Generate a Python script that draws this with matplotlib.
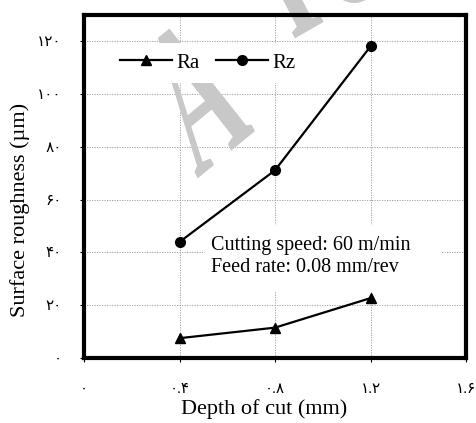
import numpy as np
import matplotlib.pyplot as plt
from matplotlib.textpath import TextPath
from matplotlib.font_manager import FontProperties
from matplotlib.patches import PathPatch, Rectangle
from matplotlib.transforms import Affine2D

depth = [0.4, 0.8, 1.2]
ra = [7.4, 11.4, 22.6]
rz = [43.9, 71.1, 118.1]

x_ticks = [0, 0.4, 0.8, 1.2, 1.6]
x_tick_labels = ['۰', '۰.۴', '۰.۸', '۱.۲', '۱.۶']
y_ticks = [0, 20, 40, 60, 80, 100, 120]
y_tick_labels = ['۰', '۲۰', '۴۰', '۶۰', '۸۰', '۱۰۰', '۱۲۰']

plt.rcParams['font.family'] = ['Liberation Serif', 'DejaVu Sans']

W, H = 476, 423
fig = plt.figure(figsize=(W / 100, H / 100), dpi=100)
ax = fig.add_axes([0.1765, 0.1544, 0.8025, 0.8101])

ax.grid(True, color='#999999', linestyle=(0, (1.5, 1.5)), linewidth=0.6, zorder=0)
ax.set_axisbelow(True)


def add_stamp(ax, txt, base, up, origin):
    # base / up are per-em vectors in pixel coords (y down), origin is the baseline start
    path = TextPath((0, 0), txt, size=1,
                    prop=FontProperties(family='Liberation Serif', weight='bold'))
    m = np.array([[base[0], up[0], origin[0]],
                  [-base[1], -up[1], H - origin[1]],
                  [0.0, 0.0, 1.0]], dtype=float)
    ax.add_patch(PathPatch(path, transform=Affine2D(m), facecolor='#c8c8c8',
                           edgecolor='none', zorder=1, clip_on=False))


add_stamp(ax, 'A', (81, -67), (-95, -184), (197, 179))
add_stamp(ax, 'rc', (105, -60), (-95, -184), (292, 40))

# white panel behind the cutting-condition note
ax.add_patch(Rectangle((0.317, 0.195), 0.618, 0.192, transform=ax.transAxes,
                       facecolor='white', edgecolor='none', zorder=2))

ax.plot(depth, ra, color='black', lw=1.6, marker='^', ms=7, label='Ra', zorder=3)
ax.plot(depth, rz, color='black', lw=1.6, marker='o', ms=7, label='Rz', zorder=3)

ax.set_xlim(0, 1.6)
ax.set_ylim(0, 130)
ax.set_xticks(x_ticks)
ax.set_xticklabels(x_tick_labels, fontsize=11)
ax.set_yticks(y_ticks)
ax.set_yticklabels(y_tick_labels, fontsize=11)
ax.tick_params(direction='out', length=3, width=0.8, pad=15, axis='x')
ax.tick_params(direction='out', length=3, width=0.8, pad=13, axis='y')

for s in ax.spines.values():
    s.set_linewidth(3.0)
    s.set_zorder(4)

ax.set_xlabel('Depth of cut (mm)', fontsize=16, va='top')
ax.xaxis.set_label_coords(0.471, -0.12)
ax.set_ylabel('Surface roughness (µm)', fontsize=16)
ax.yaxis.set_label_coords(-0.141, 0.431)

leg = ax.legend(loc='upper left', bbox_to_anchor=(0.04, 0.95), ncol=2, frameon=True,
                fontsize=15, handlelength=2.5, handletextpad=0.2, columnspacing=0.77,
                borderpad=0.5, fancybox=False)
leg.get_frame().set_edgecolor('none')
leg.get_frame().set_facecolor('white')
leg.get_frame().set_alpha(1)
leg.set_zorder(5)

ax.text(0.333, 0.295, 'Cutting speed: 60 m/min\nFeed rate: 0.08 mm/rev', transform=ax.transAxes,
        fontsize=14.5, va='center', ha='left', linespacing=1.25, zorder=5)

fig.savefig('out.png', dpi=100)
